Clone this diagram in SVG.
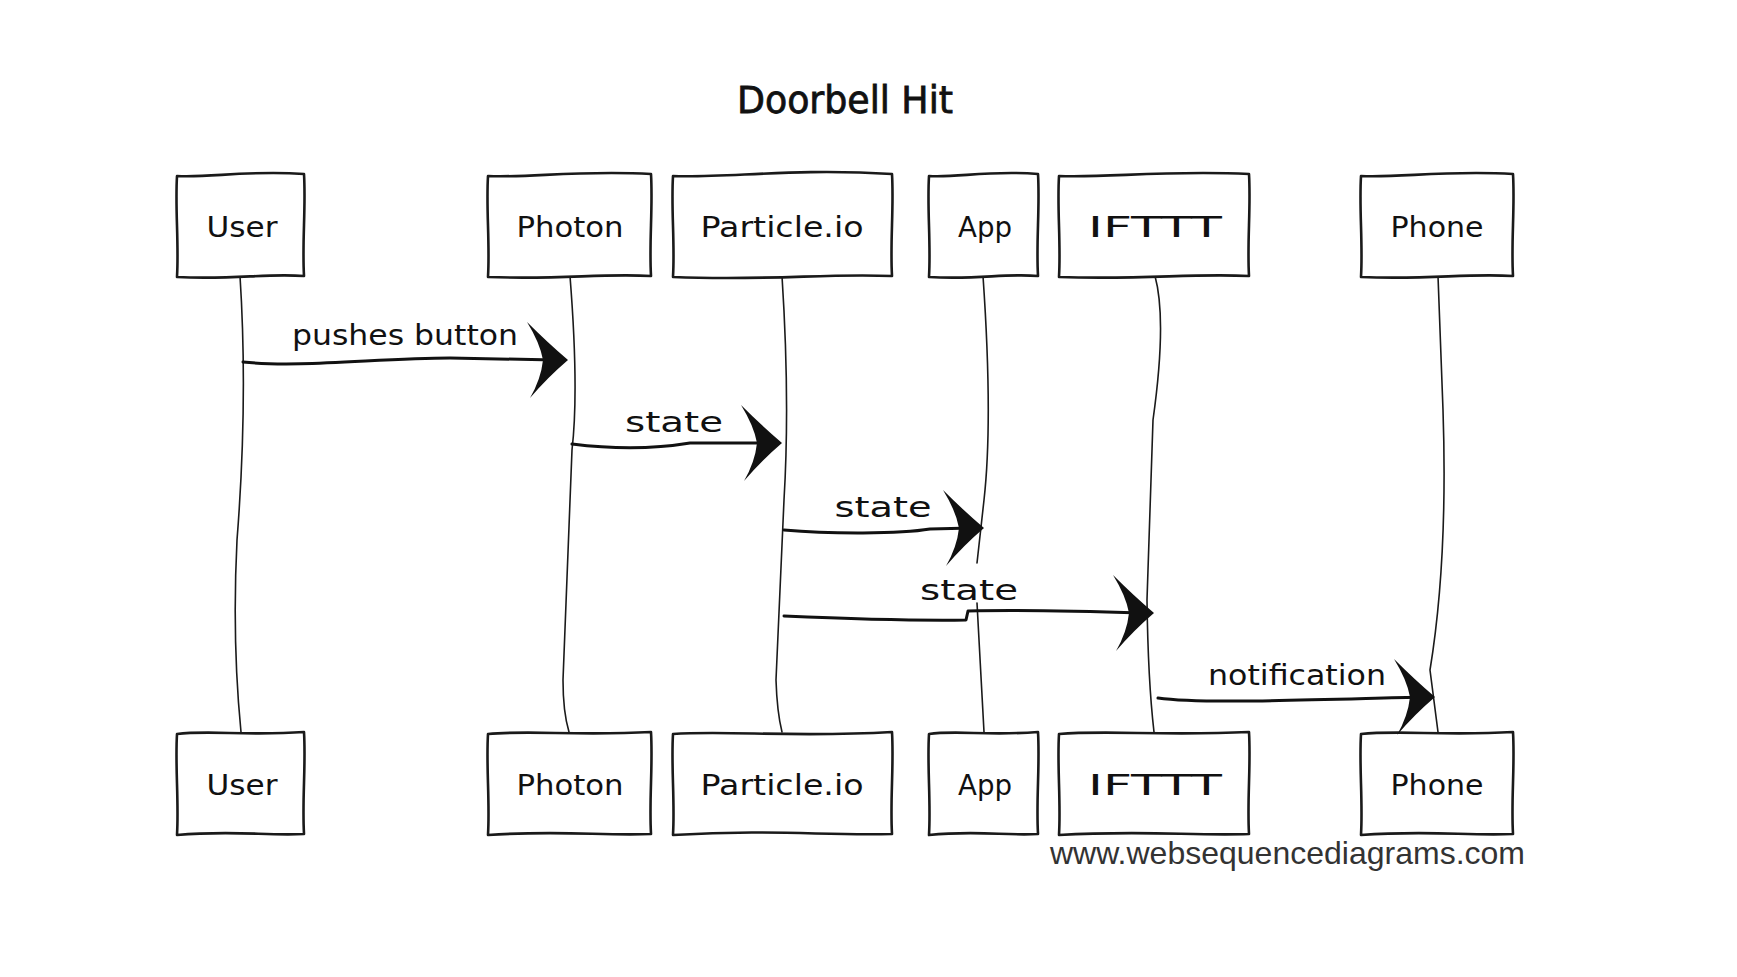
<svg xmlns="http://www.w3.org/2000/svg" xmlns:xlink="http://www.w3.org/1999/xlink" width="1737" height="977" viewBox="0 0 1737 977">
<style>
.box{fill:#fff;stroke:#1a1a1a;stroke-width:2.6;stroke-linejoin:round}
.lbl{font-family:"DejaVu Sans","Liberation Sans",sans-serif;font-size:29px;fill:#111;text-anchor:middle}
.title{font-family:"DejaVu Sans","Liberation Sans",sans-serif;font-size:37px;fill:#111;stroke:#111;stroke-width:0.8;text-anchor:middle}
.life{fill:none;stroke:#1a1a1a;stroke-width:1.6;stroke-linecap:round}
.msg{fill:none;stroke:#111;stroke-width:3;stroke-linecap:round;stroke-linejoin:round}
.head{fill:#111}
.wm{font-family:"Liberation Sans",Arial,sans-serif;font-size:32px;fill:#333}
</style>
<defs>
<path id="ah" d="M-41,-38 Q-20,-17 0,0 Q-20,17 -38,38 Q-27,19 -25,0 Q-28,-17 -41,-38 Z"/>
</defs>
<rect width="1737" height="977" fill="#fff"/>
<text class="title" x="845" y="113" textLength="216" lengthAdjust="spacingAndGlyphs">Doorbell Hit</text>

<g id="lifelines">
<path class="life" d="M240,276 Q248,400 237,540 Q232,640 241,732"/>
<path class="life" d="M570,276 Q579,390 572,450 L563,680 Q563,712 569,732"/>
<path class="life" d="M782,276 Q790,400 784,500 L776,680 Q777,712 782,732"/>
<path class="life" d="M983,276 Q993,420 984,500 L977,563"/>
<path class="life" d="M977,603 L984,732"/>
<path class="life" d="M1155,276 Q1167,320 1153,420 L1147,600 Q1148,680 1154,732"/>
<path class="life" d="M1438,276 L1443,410 Q1448,560 1430,670 L1438,732"/>
</g>

<g id="node-user-top"><path class="box" d="M177,176 C209,178 247,170 304,174 C306,209 302,241 304,276 C266,273 234,280 177,277 C179,242 175,209 177,176 Z"/><text class="lbl" x="242" y="237" textLength="71" lengthAdjust="spacingAndGlyphs">User</text></g>
<g id="node-photon-top"><path class="box" d="M488,176 C529,178 578,170 651,174 C653,209 649,241 651,276 C602,273 561,280 488,277 C490,242 486,209 488,176 Z"/><text class="lbl" x="570" y="237" textLength="107" lengthAdjust="spacingAndGlyphs">Photon</text></g>
<g id="node-particle-top"><path class="box" d="M673,176 C728,178 793,168 892,174 C894,209 890,241 892,276 C826,273 772,281 673,277 C675,242 671,209 673,176 Z"/><text class="lbl" x="782" y="237" textLength="163" lengthAdjust="spacingAndGlyphs">Particle.io</text></g>
<g id="node-app-top"><path class="box" d="M929,176 C956,178 989,170 1038,174 C1040,209 1036,241 1038,276 C1005,273 978,280 929,277 C931,242 927,209 929,176 Z"/><text class="lbl" x="985" y="237" textLength="54" lengthAdjust="spacingAndGlyphs">App</text></g>
<g id="node-ifttt-top"><path class="box" d="M1059,176 C1107,178 1164,170 1249,174 C1251,209 1247,241 1249,276 C1192,273 1145,280 1059,277 C1061,242 1057,209 1059,176 Z"/><text class="lbl" x="1155" y="237" textLength="134" lengthAdjust="spacingAndGlyphs">IFTTT</text></g>
<g id="node-phone-top"><path class="box" d="M1361,176 C1399,178 1445,170 1513,174 C1515,209 1511,241 1513,276 C1467,273 1429,280 1361,277 C1363,242 1359,209 1361,176 Z"/><text class="lbl" x="1437" y="237" textLength="93" lengthAdjust="spacingAndGlyphs">Phone</text></g>

<g id="node-user-bottom"><path class="box" d="M177,734 C209,730 247,736 304,732 C306,767 302,799 304,834 C266,836 234,830 177,835 C179,800 175,767 177,734 Z"/><text class="lbl" x="242" y="795" textLength="71" lengthAdjust="spacingAndGlyphs">User</text></g>
<g id="node-photon-bottom"><path class="box" d="M488,734 C529,730 578,736 651,732 C653,767 649,799 651,834 C602,836 561,830 488,835 C490,800 486,767 488,734 Z"/><text class="lbl" x="570" y="795" textLength="107" lengthAdjust="spacingAndGlyphs">Photon</text></g>
<g id="node-particle-bottom"><path class="box" d="M673,734 C728,730 793,738 892,732 C894,767 890,799 892,834 C826,836 772,829 673,835 C675,800 671,767 673,734 Z"/><text class="lbl" x="782" y="795" textLength="163" lengthAdjust="spacingAndGlyphs">Particle.io</text></g>
<g id="node-app-bottom"><path class="box" d="M929,734 C956,730 989,736 1038,732 C1040,767 1036,799 1038,834 C1005,836 978,830 929,835 C931,800 927,767 929,734 Z"/><text class="lbl" x="985" y="795" textLength="54" lengthAdjust="spacingAndGlyphs">App</text></g>
<g id="node-ifttt-bottom"><path class="box" d="M1059,734 C1107,730 1164,736 1249,732 C1251,767 1247,799 1249,834 C1192,836 1145,830 1059,835 C1061,800 1057,767 1059,734 Z"/><text class="lbl" x="1155" y="795" textLength="134" lengthAdjust="spacingAndGlyphs">IFTTT</text></g>
<g id="node-phone-bottom"><path class="box" d="M1361,734 C1399,730 1445,736 1513,732 C1515,767 1511,799 1513,834 C1467,836 1429,830 1361,835 C1363,800 1359,767 1361,734 Z"/><text class="lbl" x="1437" y="795" textLength="93" lengthAdjust="spacingAndGlyphs">Phone</text></g>

<g id="connectors">
<path class="msg" d="M243,362 C300,368 380,358 450,358 L555,360"/>
<use href="#ah" xlink:href="#ah" class="head" x="568" y="360"/>
<text class="lbl" x="405" y="345" textLength="226" lengthAdjust="spacingAndGlyphs">pushes button</text>

<path class="msg" d="M572,444 C620,450 660,448 690,443 L770,443"/>
<use href="#ah" xlink:href="#ah" class="head" x="782" y="443"/>
<text class="lbl" x="674" y="432" textLength="98" lengthAdjust="spacingAndGlyphs">state</text>

<path class="msg" d="M784,530 C830,534 900,534 930,529 L972,528"/>
<use href="#ah" xlink:href="#ah" class="head" x="984" y="528"/>
<text class="lbl" x="883" y="517" textLength="97" lengthAdjust="spacingAndGlyphs">state</text>

<path class="msg" d="M784,616 C830,618 900,621 966,620 L968,611 C1010,610 1080,611 1142,613"/>
<use href="#ah" xlink:href="#ah" class="head" x="1154" y="613"/>
<text class="lbl" x="969" y="600" textLength="98" lengthAdjust="spacingAndGlyphs">state</text>

<path class="msg" d="M1158,698 C1200,704 1300,700 1424,697"/>
<use href="#ah" xlink:href="#ah" class="head" x="1435" y="697"/>
<text class="lbl" x="1297" y="685" textLength="178" lengthAdjust="spacingAndGlyphs">notification</text>
</g>

<text class="wm" x="1050" y="864" textLength="475" lengthAdjust="spacingAndGlyphs">www.websequencediagrams.com</text>
</svg>
